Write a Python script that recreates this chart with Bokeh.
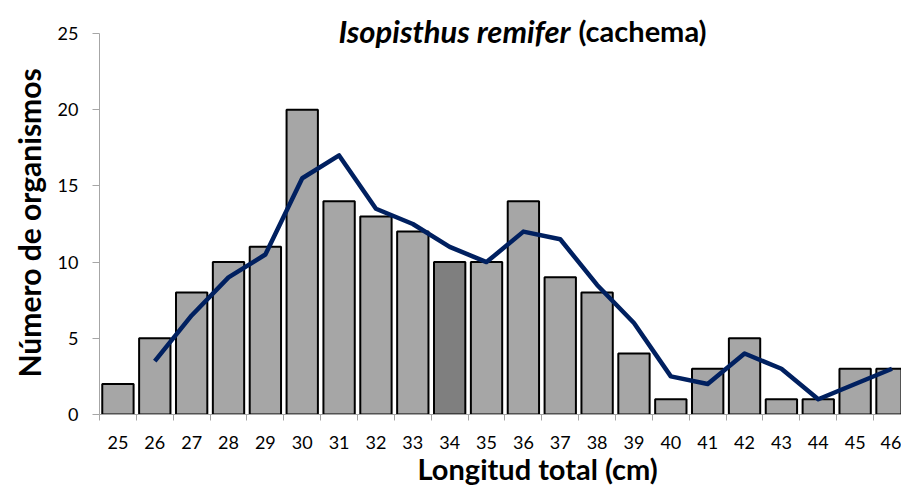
import math
from bokeh.plotting import figure
from bokeh.models import Range1d, FixedTicker, Label, ColumnDataSource, Title
from bokeh.embed import file_html
from bokeh.resources import INLINE

# Data
lengths = [25, 26, 27, 28, 29, 30, 31, 32, 33, 34, 35, 36, 37, 38, 39, 40, 41, 42, 43, 44, 45, 46]
counts = [2, 5, 8, 10, 11, 20, 14, 13, 12, 10, 10, 14, 9, 8, 4, 1, 3, 5, 1, 1, 3, 3]
trend_x = [26, 27, 28, 29, 30, 31, 32, 33, 34, 35, 36, 37, 38, 39, 40, 41, 42, 43, 44, 45, 46]
trend_y = [3.5, 6.5, 9, 10.5, 15.5, 17, 13.5, 12.5, 11, 10, 12, 11.5, 8.5, 6, 2.5, 2, 4, 3, 1, 2, 3]
highlight = 34
y_ticks = [0, 5, 10, 15, 20, 25]
y_max = 25

FONT = "Lato"
W, H = 901, 488
LEFT, TOP25, BOTTOM = 99, 33, 414  # page pixels: y axis, top of value axis, baseline
PX_PER_UNIT = (BOTTOM - TOP25) / y_max
X_PX = 36.86

x_start = lengths[0] - 0.5
x_end = x_start + (W - LEFT) / X_PX

p = figure(width=W, height=H, output_backend="svg", toolbar_location=None,
           x_range=Range1d(x_start, x_end),
           y_range=Range1d(0, BOTTOM / PX_PER_UNIT),
           min_border_left=LEFT, min_border_right=0, min_border_top=0,
           min_border_bottom=H - BOTTOM)
p.outline_line_color = None
p.xgrid.visible = False
p.ygrid.visible = False

colors = ["#7f7f7f" if c == highlight else "#a6a6a6" for c in lengths]
src = ColumnDataSource(dict(x=lengths, top=counts, color=colors))
p.vbar(x="x", top="top", width=0.85, bottom=0, source=src, fill_color="color",
       line_color="black", line_width=2)
p.line(trend_x, trend_y, line_color="#002060", line_width=4.5, line_join="round")

# axes
bounds = [c - 0.5 for c in lengths] + [lengths[-1] + 0.5]
p.xaxis.ticker = FixedTicker(ticks=lengths, minor_ticks=bounds)
p.xaxis.major_tick_out = 0
p.xaxis.major_tick_in = 0
p.xaxis.minor_tick_out = 6
p.xaxis.minor_tick_in = 0
p.xaxis.minor_tick_line_color = "#a6a6a6"
p.xaxis.axis_line_color = "#a6a6a6"
p.xaxis.major_label_standoff = 15

p.yaxis.bounds = (0, y_max)
p.yaxis.ticker = FixedTicker(ticks=y_ticks)
p.yaxis.major_tick_out = 7
p.yaxis.major_tick_in = 0
p.yaxis.minor_tick_out = 0
p.yaxis.minor_tick_in = 0
p.yaxis.major_tick_line_color = "#a6a6a6"
p.yaxis.axis_line_color = "#a6a6a6"
p.yaxis.major_label_standoff = 14

for ax in (p.xaxis, p.yaxis):
    ax.major_label_text_font = FONT
    ax.major_label_text_font_size = "18px"
    ax.major_label_text_color = "black"

# axis titles as side-panel titles (offset measured from the frame start)
p.add_layout(Title(text="Longitud total (cm)", align="left", offset=318, standoff=-5,
                   text_font=FONT, text_font_size="29px", text_font_style="bold",
                   text_color="black"), "below")
p.add_layout(Title(text="Número de organismos", align="left", offset=37, standoff=15,
                   text_font=FONT, text_font_size="30px", text_font_style="bold",
                   text_color="black"), "left")


def sx(px):
    return px - LEFT


def sy(py):
    return BOTTOM - py


# chart title (screen units are relative to the frame)
p.add_layout(Label(x=sx(570), y=sy(30), x_units="screen", y_units="screen",
                   text="Isopisthus remifer", text_font=FONT, text_font_size="31px",
                   text_font_style="bold italic", text_align="right", text_baseline="middle",
                   text_color="black"))
p.add_layout(Label(x=sx(578), y=sy(30), x_units="screen", y_units="screen",
                   text="(cachema)", text_font=FONT, text_font_size="29px",
                   text_font_style="bold", text_align="left", text_baseline="middle",
                   text_color="black"))

open("out.html", "w").write(file_html(p, INLINE))
